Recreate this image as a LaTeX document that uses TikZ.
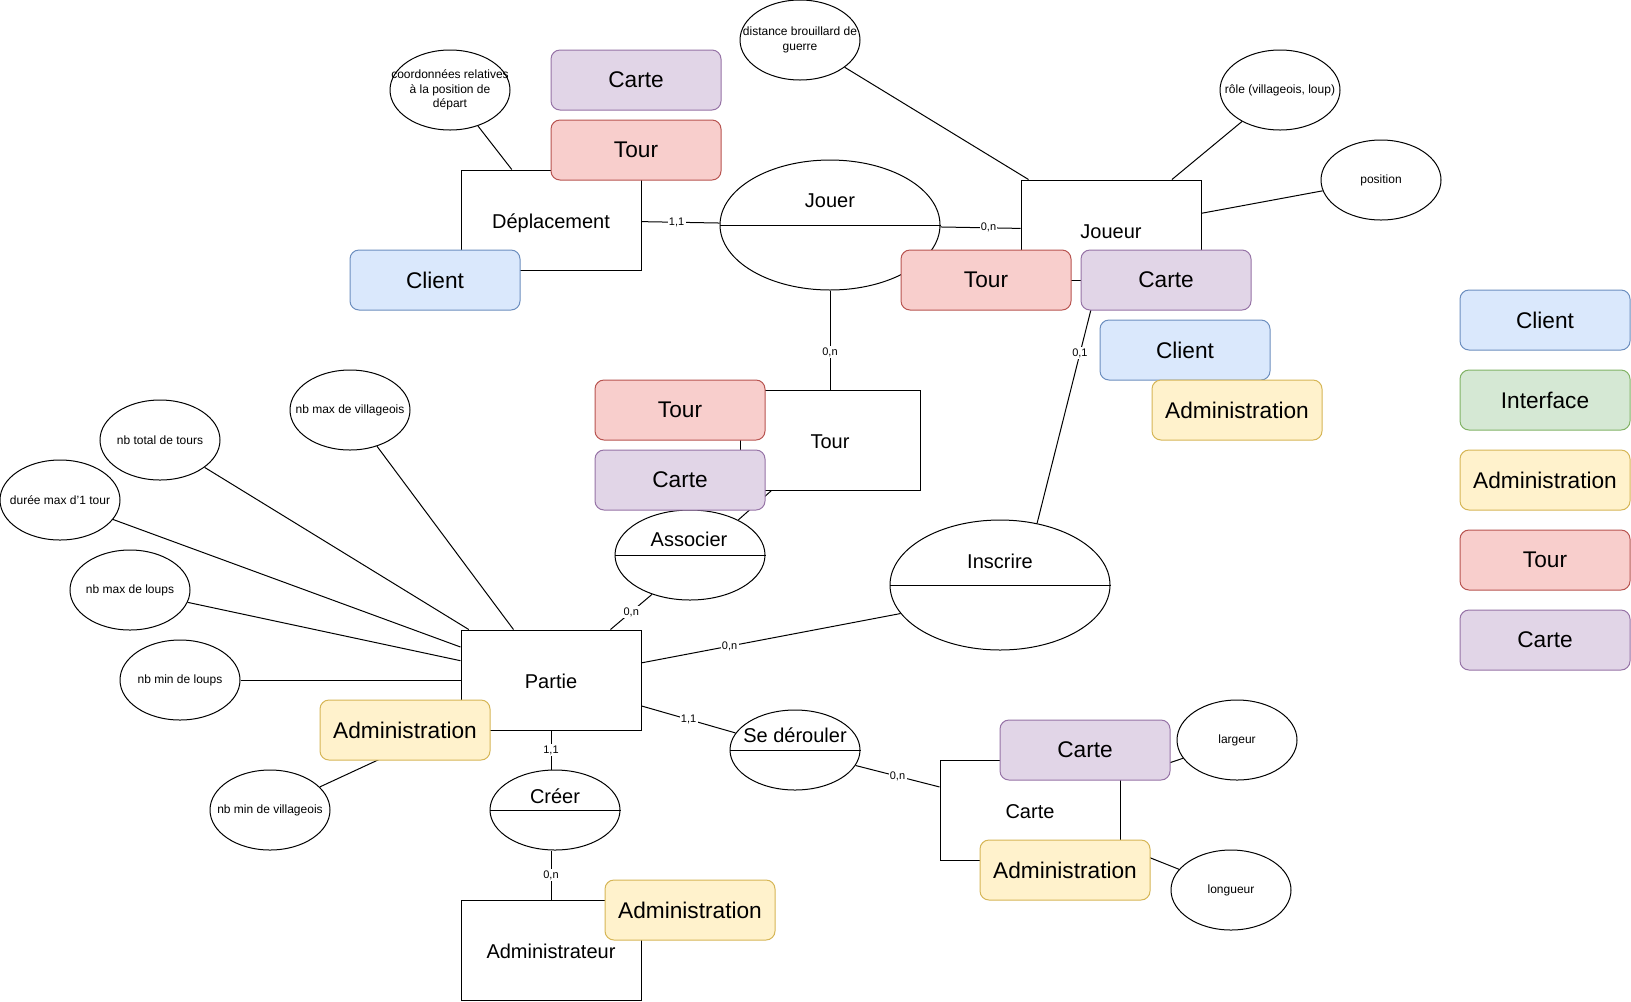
\documentclass[tikz,border=0pt]{standalone}
\usepackage{fontspec}
\setmainfont{Liberation Sans}
\usetikzlibrary{shapes.geometric,calc}
\definecolor{blueF}{HTML}{DAE8FC}\definecolor{blueD}{HTML}{6C8EBF}
\definecolor{greenF}{HTML}{D5E8D4}\definecolor{greenD}{HTML}{82B366}
\definecolor{yelF}{HTML}{FFF2CC}\definecolor{yelD}{HTML}{D6B656}
\definecolor{redF}{HTML}{F8CECC}\definecolor{redD}{HTML}{B85450}
\definecolor{purF}{HTML}{E1D5E7}\definecolor{purD}{HTML}{9673A6}
\begin{document}
\begin{tikzpicture}[x=0.75pt,y=-0.75pt,line width=0.75pt,
  entity/.style={draw,fill=white,rectangle,minimum width=135pt,minimum height=75pt,inner sep=0pt,text height=12.5pt,text depth=0pt,font=\fontsize{15}{18}\selectfont},
  rel/.style={draw,fill=white,ellipse,inner sep=0pt},
  reltxt/.style={inner sep=0pt,font=\fontsize{15}{18}\selectfont},
  attr/.style={draw,fill=white,ellipse,minimum width=90pt,minimum height=60pt,inner sep=0pt},
  attrtxt/.style={align=center,inner sep=0pt,font=\fontsize{9}{10.8}\selectfont},
  ov/.style={draw,rounded corners=6.75pt,minimum width=127.5pt,minimum height=45pt,inner sep=0pt,font=\fontsize{17}{20}\selectfont},
  ovblue/.style={ov,fill=blueF,draw=blueD},
  ovgreen/.style={ov,fill=greenF,draw=greenD},
  ovyel/.style={ov,fill=yelF,draw=yelD},
  ovred/.style={ov,fill=redF,draw=redD},
  ovpur/.style={ov,fill=purF,draw=purD},
  lbl/.style={fill=white,inner sep=1pt,font=\fontsize{8.25}{9.9}\selectfont}]
\fill[white] (0,0) rectangle (1631,1001);
\useasboundingbox (0,0) rectangle (1631,1001);

% entities
\node[entity] (depl) at (551,220) {Déplacement};
\node[entity] (joueur) at (1111,230) {Joueur};
\node[entity] (tourE) at (830,440) {Tour};
\node[entity] (partie) at (551,680) {Partie};
\node[entity] (admin) at (551,950) {Administrateur};
\node[entity] (carteE) at (1030,810) {Carte};

% relationships
\node[rel,minimum width=165pt,minimum height=97.5pt] (jouer) at (830,225) {};
\draw (jouer.west) -- (jouer.east);
\node[reltxt] (jouert) at (830,201) {Jouer};
\node[rel,minimum width=112.5pt,minimum height=67.5pt] (assoc) at (690,555) {};
\draw (assoc.west) -- (assoc.east);
\node[reltxt] (assoct) at (689,539) {Associer};
\node[rel,minimum width=165pt,minimum height=97.5pt] (inscrire) at (1000,585) {};
\draw (inscrire.west) -- (inscrire.east);
\node[reltxt] (inscriret) at (1000,561) {Inscrire};
\node[rel,minimum width=97.5pt,minimum height=60pt] (creer) at (555,810) {};
\draw (creer.west) -- (creer.east);
\node[reltxt] (creert) at (555,796) {Créer};
\node[rel,minimum width=97.5pt,minimum height=60pt] (sed) at (795,750) {};
\draw (sed.west) -- (sed.east);
\node[reltxt] (sedt) at (795,735.5) {Se dérouler};

% attributes
\node[attr] (coord) at (450,90) {};
\node[attrtxt] (coordt) at (coord) {coordonnées relatives\\à la position de\\départ};
\node[attr] (dist) at (800,40) {};
\node[attrtxt] (distt) at (dist) {distance brouillard de\\guerre};
\node[attr] (role) at (1280,90) {};
\node[attrtxt] (rolet) at (role) {rôle (villageois, loup)};
\node[attr] (pos) at (1381,180) {};
\node[attrtxt] (post) at (pos) {position};
\node[attr] (nbvmax) at (350,410) {};
\node[attrtxt] (nbvmaxt) at (nbvmax) {nb max de villageois};
\node[attr] (nbtours) at (160,440) {};
\node[attrtxt] (nbtourst) at (nbtours) {nb total de tours};
\node[attr] (duree) at (60,500) {};
\node[attrtxt] (dureet) at (duree) {durée max d'1 tour};
\node[attr] (nblmax) at (130,590) {};
\node[attrtxt] (nblmaxt) at (nblmax) {nb max de loups};
\node[attr] (nblmin) at (180,680) {};
\node[attrtxt] (nblmint) at (nblmin) {nb min de loups};
\node[attr] (nbvmin) at (270,810) {};
\node[attrtxt] (nbvmint) at (nbvmin) {nb min de villageois};
\node[attr] (larg) at (1237,740) {};
\node[attrtxt] (largt) at (larg) {largeur};
\node[attr] (long) at (1231,890) {};
\node[attrtxt] (longt) at (long) {longueur};

% connectors with cardinalities
\draw (depl) -- node[lbl,pos=0.45]{1,1} (jouer);
\draw (jouer) -- node[lbl,pos=0.6]{0,n} (joueur);
\draw (jouer) -- node[lbl,pos=0.62]{0,n} (tourE);
\draw (assoc.226) -- node[lbl]{0,n} (partie);
\draw (assoc.36) -- ($(tourE.south west)+(32,0)$);
\draw (partie) -- node[lbl,pos=0.34]{0,n} (inscrire.196);
\draw (inscrire.59) -- node[lbl,pos=0.7]{0,1} (joueur);
\draw (partie) -- node[lbl]{1,1} (sed);
\draw (sed) -- node[lbl]{0,n} (carteE);
\draw (partie.south) -- node[lbl]{1,1} (partie.south |- creer.north);
\draw (admin.north |- creer.south) -- node[lbl]{0,n} (admin.north);

% attribute links
\draw (coord) -- (depl);
\draw (dist) -- (joueur);
\draw (role) -- (joueur);
\draw (pos) -- (joueur);
\draw (nbvmax) -- (partie);
\draw (nbtours) -- (partie);
\draw (duree) -- (partie);
\draw (nblmax) -- (partie);
\draw (nblmin) -- (partie);
\draw (nbvmin) -- (partie);
\draw (larg) -- (carteE);
\draw (long) -- (carteE);

% overlays
\node[ovpur] (ovC1) at (636,80) {Carte};
\node[ovred] (ovT1) at (636,150) {Tour};
\node[ovblue] (ovCl1) at (435,280) {Client};
\node[ovred] (ovT2) at (986,280) {Tour};
\node[ovpur] (ovC2) at (1166,280) {Carte};
\node[ovblue] (ovCl2) at (1185,350) {Client};
\node[ovyel] (ovA1) at (1237,410) {Administration};
\node[ovred] (ovT3) at (680,410) {Tour};
\node[ovpur] (ovC3) at (680,480) {Carte};
\node[ovyel] (ovA2) at (405,730) {Administration};
\node[ovyel] (ovA3) at (690,910) {Administration};
\node[ovpur] (ovC4) at (1085,750) {Carte};
\node[ovyel] (ovA4) at (1065,870) {Administration};

% legend
\node[ovblue] (leg1) at (1545,320) {Client};
\node[ovgreen] (leg2) at (1545,400) {Interface};
\node[ovyel] (leg3) at (1545,480) {Administration};
\node[ovred] (leg4) at (1545,560) {Tour};
\node[ovpur] (leg5) at (1545,640) {Carte};
\end{tikzpicture}
\end{document}
